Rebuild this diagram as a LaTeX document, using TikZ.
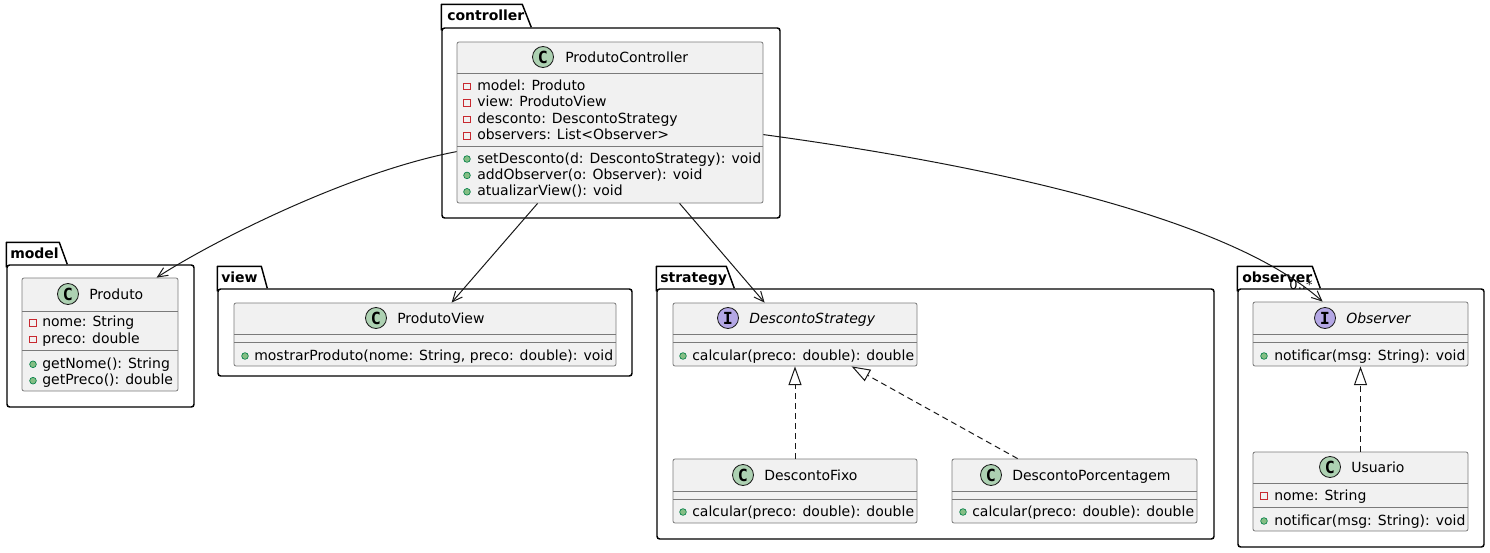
\documentclass[tikz,border=0pt]{standalone}
\usepackage{fontspec}
\setmainfont{DejaVu Sans}
\newfontfamily\markfont{DejaVu Sans Mono}
\usetikzlibrary{arrows.meta}
\usetikzlibrary{calc}
\usetikzlibrary{fit}
\usetikzlibrary{positioning}
\definecolor{boxfill}{HTML}{F1F1F1}
\definecolor{boxline}{HTML}{7A7A7A}
\definecolor{linkcolour}{HTML}{181818}
\definecolor{classcolour}{HTML}{ADD1B2}
\definecolor{ifacecolour}{HTML}{B4A7E5}
\definecolor{privcolour}{HTML}{C82930}
\definecolor{pubfill}{HTML}{84BE84}
\definecolor{publine}{HTML}{038048}
\newcommand\linewd{.75pt}
\newcommand\pkgwd{1.1pt}
\newcommand\rowgap{16.4}
\tikzset{
  umlbox/.style={draw=boxline, fill=boxfill, line width=.6pt, rounded corners=1.5pt, inner sep=0pt},
  pkgbox/.style={draw=black, line width=\pkgwd, rounded corners=2pt, inner sep=0pt},
  pkgtab/.style={draw=black, line width=\pkgwd, line join=round},
  pkglabel/.style={anchor=base west, inner sep=0pt, font=\fontsize{10.5}{12}\selectfont\bfseries},
  classname/.style={anchor=base west, inner sep=0pt, font=\fontsize{10.5}{12}\selectfont},
  member/.style={anchor=base west, inner sep=0pt, font=\fontsize{10.5}{12}\selectfont},
  sepline/.style={draw=boxline, line width=.6pt},
  headmark/.style={circle, draw=linkcolour, line width=.6pt, minimum size=15.75pt, inner sep=0pt,
    font=\markfont\fontsize{12.5}{12.5}\selectfont\bfseries},
  privmark/.style={draw=privcolour, line width=.6pt, minimum size=4.8pt, inner sep=0pt},
  pubmark/.style={circle, draw=publine, fill=pubfill, line width=.5pt, minimum size=5pt, inner sep=0pt},
  uses/.style={draw=linkcolour, line width=\linewd, -{Straight Barb[length=7.5pt,width=6.75pt]}},
  realizes/.style={draw=linkcolour, line width=\linewd, dash pattern=on 4.5pt off 3pt,
    -{Triangle[open, length=14pt, width=9.75pt, fill=white]}},
  multiplicity/.style={inner sep=0pt, font=\fontsize{9.75}{10}\selectfont},
}
\begin{document}
\begin{tikzpicture}[x=0.75pt, y=-0.75pt]
  \useasboundingbox (0,0) rectangle (1490,553);
  % packages
  \node[pkgbox, fit={(442,28) (780,218)}] (ctrl) {};
  \draw[pkgtab] ($(ctrl.north west)+(0,3)$) -- ++(0,-26) -- ++(81,0) -- ++(9,23);
  \node[pkglabel] (ctrl-label) at (447,20.7) {controller};
  \node[pkgbox, fit={(7,265) (194,407)}] (model) {};
  \draw[pkgtab] ($(model.north west)+(0,3)$) -- ++(0,-25) -- ++(53,0) -- ++(8,22);
  \node[pkglabel] (model-label) at (10,258) {model};
  \node[pkgbox, fit={(218,289) (632,376)}] (view) {};
  \draw[pkgtab] ($(view.north west)+(0,3)$) -- ++(0,-25) -- ++(44,0) -- ++(6,22);
  \node[pkglabel] (view-label) at (221,282.5) {view};
  \node[pkgbox, fit={(657,289) (1214,539)}] (strat) {};
  \draw[pkgtab] ($(strat.north west)+(0,3)$) -- ++(0,-25) -- ++(70,0) -- ++(8,22);
  \node[pkglabel] (strat-label) at (660,282.5) {strategy};
  \node[pkgbox, fit={(1238,289) (1484,547)}] (obs) {};
  \draw[pkgtab] ($(obs.north west)+(0,3)$) -- ++(0,-25) -- ++(75,0) -- ++(8,22);
  \node[pkglabel] (obs-label) at (1242,282.5) {observer};
  % ProdutoController
  \node[umlbox, fit={(457,42) (763,203)}] (pc) {};
  \node[headmark, fill=classcolour] (pc-mark) at (543,57) {C};
  \node[classname] (pc-name) at (565,62.3) {ProdutoController};
  \draw[sepline] (457,73) -- (763,73);
  \draw[sepline] (457,146) -- (763,146);
  \foreach \txt [count=\i from 0] in {model: Produto, view: ProdutoView,
      desconto: DescontoStrategy, observers: List<Observer>} {
    \node[privmark] (pc-pm\i) at (467,86.5+\rowgap*\i) {};
    \node[member] (pc-at\i) at (477,90.5+\rowgap*\i) {\txt};
  }
  \foreach \txt [count=\i from 0] in {setDesconto(d: DescontoStrategy): void,
      addObserver(o: Observer): void, atualizarView(): void} {
    \node[pubmark] (pc-om\i) at (467,159+\rowgap*\i) {};
    \node[member] (pc-op\i) at (477,163+\rowgap*\i) {\txt};
  }
  % Produto
  \node[umlbox, fit={(22,278) (178,391)}] (pr) {};
  \node[headmark, fill=classcolour] (pr-mark) at (68,294) {C};
  \node[classname] (pr-name) at (89,299.3) {Produto};
  \draw[sepline] (22,311) -- (178,311);
  \draw[sepline] (22,350) -- (178,350);
  \foreach \txt [count=\i from 0] in {nome: String, preco: double} {
    \node[privmark] (pr-pm\i) at (33,322.7+\rowgap*\i) {};
    \node[member] (pr-at\i) at (42,326.7+\rowgap*\i) {\txt};
  }
  \foreach \txt [count=\i from 0] in {getNome(): String, getPreco(): double} {
    \node[pubmark] (pr-om\i) at (33,364.3+\rowgap*\i) {};
    \node[member] (pr-op\i) at (42,368.3+\rowgap*\i) {\txt};
  }
  % ProdutoView
  \node[umlbox, fit={(234,303) (616,366)}] (pv) {};
  \node[headmark, fill=classcolour] (pv-mark) at (376,318) {C};
  \node[classname] (pv-name) at (397,323.3) {ProdutoView};
  \draw[sepline] (234,334) -- (616,334);
  \draw[sepline] (234,342) -- (616,342);
  \node[pubmark] (pv-om0) at (245,356) {};
  \node[member] (pv-op0) at (254,360) {mostrarProduto(nome: String, preco: double): void};
  % DescontoStrategy
  \node[umlbox, fit={(673,303) (917,366)}] (ds) {};
  \node[headmark, fill=ifacecolour] (ds-mark) at (728,318) {I};
  \node[classname, font=\fontsize{10.5}{12}\selectfont\itshape] (ds-name) at (749,323.3) {DescontoStrategy};
  \draw[sepline] (673,334) -- (917,334);
  \draw[sepline] (673,342) -- (917,342);
  \node[pubmark] (ds-om0) at (683,356) {};
  \node[member] (ds-op0) at (692,360) {calcular(preco: double): double};
  % DescontoFixo
  \node[umlbox, fit={(673,459) (917,523)}] (df) {};
  \node[headmark, fill=classcolour] (df-mark) at (743,475) {C};
  \node[classname] (df-name) at (764,480.3) {DescontoFixo};
  \draw[sepline] (673,491) -- (917,491);
  \draw[sepline] (673,499) -- (917,499);
  \node[pubmark] (df-om0) at (683,512) {};
  \node[member] (df-op0) at (692,516) {calcular(preco: double): double};
  % DescontoPorcentagem
  \node[umlbox, fit={(952,459) (1197,523)}] (dp) {};
  \node[headmark, fill=classcolour] (dp-mark) at (991,475) {C};
  \node[classname] (dp-name) at (1012,480.3) {DescontoPorcentagem};
  \draw[sepline] (952,491) -- (1197,491);
  \draw[sepline] (952,499) -- (1197,499);
  \node[pubmark] (dp-om0) at (963,512) {};
  \node[member] (dp-op0) at (972,516) {calcular(preco: double): double};
  % Observer
  \node[umlbox, fit={(1253,302) (1468,366)}] (ob) {};
  \node[headmark, fill=ifacecolour] (ob-mark) at (1325,318) {I};
  \node[classname, font=\fontsize{10.5}{12}\selectfont\itshape] (ob-name) at (1346,323.3) {Observer};
  \draw[sepline] (1253,334) -- (1468,334);
  \draw[sepline] (1253,342) -- (1468,342);
  \node[pubmark] (ob-om0) at (1264,356) {};
  \node[member] (ob-op0) at (1274,360) {notificar(msg: String): void};
  % Usuario
  \node[umlbox, fit={(1253,452) (1468,531)}] (us) {};
  \node[headmark, fill=classcolour] (us-mark) at (1330,467) {C};
  \node[classname] (us-name) at (1351,472.3) {Usuario};
  \draw[sepline] (1253,483) -- (1468,483);
  \draw[sepline] (1253,507) -- (1468,507);
  \node[privmark] (us-pm0) at (1264,496) {};
  \node[member] (us-at0) at (1274,500) {nome: String};
  \node[pubmark] (us-om0) at (1264,521) {};
  \node[member] (us-op0) at (1274,525) {notificar(msg: String): void};
  % links
  \draw[uses] ($(pc.north west)+(0,110)$) .. controls (350,172) and (215,240) .. ($(pr.north west)+(135,0)$);
  \draw[uses] ($(pc.south west)+(81,0)$) -- ($(pv.north west)+(218,0)$);
  \draw[uses] ($(pc.south west)+(223,0)$) -- ($(ds.north west)+(92,0)$);
  \draw[uses] ($(pc.north east)+(0,93)$) .. controls (950,160) and (1220,210) .. ($(ob.north west)+(70,0)$);
  \node[multiplicity] (obs-mult) at (1301,285) {0..*};
  \draw[realizes] (df.north) -- (ds.south);
  \draw[realizes] ($(dp.north west)+(66,0)$) -- ($(ds.south west)+(179,0)$);
  \draw[realizes] (us.north) -- (ob.south);
\end{tikzpicture}
\end{document}
